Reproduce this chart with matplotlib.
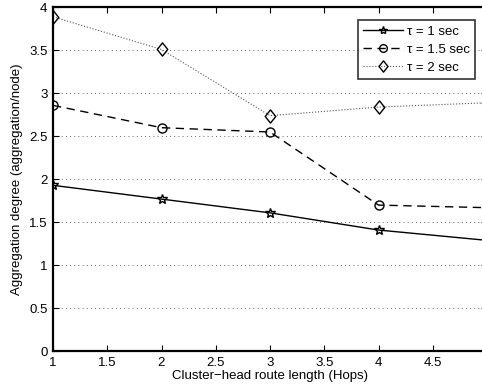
import matplotlib
matplotlib.use("Agg")
import matplotlib.pyplot as plt
from matplotlib.path import Path

plt.rcParams['font.family'] = ['Liberation Sans', 'DejaVu Sans']

hops = [1, 2, 3, 4, 5]
tau_1 = [1.93, 1.77, 1.61, 1.41, 1.29]
tau_15 = [2.86, 2.60, 2.55, 1.70, 1.67]
tau_2 = [3.89, 3.51, 2.74, 2.84, 2.89]

x_ticks = [1, 1.5, 2, 2.5, 3, 3.5, 4, 4.5, 5]
x_labels = ['1', '1.5', '2', '2.5', '3', '3.5', '4', '4.5', '']
y_ticks = [0, 0.5, 1, 1.5, 2, 2.5, 3, 3.5, 4]

# rhombus marker, a little taller than wide
rhombus = Path([(0, 1), (0.8, 0), (0, -1), (-0.8, 0), (0, 1)],
               [Path.MOVETO, Path.LINETO, Path.LINETO, Path.LINETO, Path.CLOSEPOLY])

fig = plt.figure(figsize=(4.82, 3.92), dpi=100)
ax = fig.add_axes([53 / 482, 40.7 / 392, 434 / 482, 344 / 392])

ax.plot(hops, tau_1, '-', color='black', lw=1.0, marker='*', ms=7,
        mfc='none', mec='black', mew=1.0, label='τ = 1 sec')
ax.plot(hops, tau_15, '--', color='black', lw=1.0, marker='o', ms=6.5,
        mfc='none', mec='black', mew=1.0, dashes=(6, 4), label='τ = 1.5 sec')
ax.plot(hops, tau_2, ':', color='#555555', lw=0.8, marker=rhombus, ms=9.5,
        mfc='none', mec='black', mew=1.0, label='τ = 2 sec')

ax.set_xlim(1, 5)
ax.set_ylim(0, 4)
ax.set_xticks(x_ticks)
ax.set_xticklabels(x_labels)
ax.set_yticks(y_ticks)
ax.set_yticklabels([f"{v:g}" for v in y_ticks])

ax.yaxis.grid(True, linestyle=(0, (1, 4)), color='#333333', lw=0.6)
ax.set_axisbelow(True)

for side in ['left', 'bottom', 'top', 'right']:
    ax.spines[side].set_linewidth(1.6)
ax.tick_params(direction='in', top=True, right=True, length=4, width=0.8,
               labelsize=9.5, pad=4)

ax.set_xlabel('Cluster\u2212head route length (Hops)', fontsize=9.5, labelpad=1)
ax.set_ylabel('Aggregation degree (aggregation/node)', fontsize=9.5, labelpad=4)

# legend frame placed in pixel terms relative to the figure
leg = ax.legend(loc='upper right', bbox_to_anchor=(475 / 482, (392 - 20) / 392),
                bbox_transform=fig.transFigure, fontsize=9.5, frameon=True,
                fancybox=False, edgecolor='black', handlelength=3.0,
                handletextpad=0.3, borderpad=0.4, labelspacing=0.45,
                borderaxespad=0, markerscale=0.85)
leg.get_frame().set_linewidth(1.2)

fig.savefig('out.png', dpi=100)
